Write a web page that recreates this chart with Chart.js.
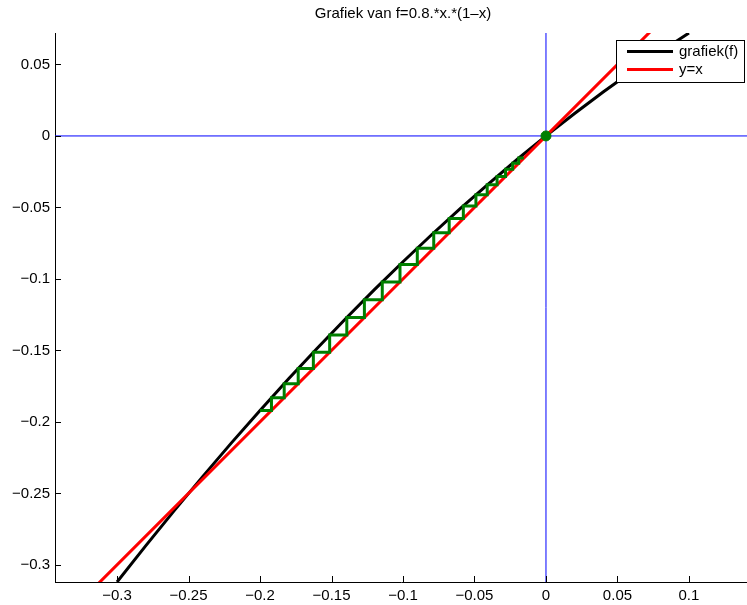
<!DOCTYPE html>
<html>
<head>
<meta charset="utf-8">
<script src="https://cdn.jsdelivr.net/npm/chart.js@4.4.0/dist/chart.umd.min.js"></script>
<style>
    html, body { margin: 0; padding: 0; background: #fff; }
    canvas { display: block; }
</style>
</head>
<body>
<canvas id="myChart" width="747" height="605"></canvas>
<script>
let titleText = 'Grafiek van f=0.8.*x.*(1\u2013x)';

// black curve
let curveX = [-0.30, -0.28, -0.26, -0.24, -0.22, -0.20, -0.18, -0.16, -0.14, -0.12, -0.10,
              -0.08, -0.06, -0.04, -0.02, 0, 0.02, 0.04, 0.06, 0.08, 0.10];
let curveY = [-0.312, -0.2867, -0.2621, -0.2381, -0.2147, -0.192, -0.1699, -0.1485, -0.1277, -0.1075, -0.088,
              -0.0691, -0.0509, -0.0333, -0.0163, 0, 0.0157, 0.0307, 0.0451, 0.0589, 0.072];

// red line y=x
let lineX = [-0.35, 0.15];
let lineY = [-0.35, 0.15];

// green staircase: successive iterates
let cobwebIter = [-0.2, -0.192, -0.1831, -0.1733, -0.1627, -0.1513, -0.1393, -0.1270, -0.1145, -0.1021,
                  -0.0900, -0.0785, -0.0677, -0.0578, -0.0490, -0.0411, -0.0342, -0.0283, -0.0233, -0.0191, -0.0155];
let fixedPoint = [0, 0];

let xTicks = [-0.3, -0.25, -0.2, -0.15, -0.1, -0.05, 0, 0.05, 0.1];
let yTicks = [-0.3, -0.25, -0.2, -0.15, -0.1, -0.05, 0, 0.05];
let xRange = [-0.3434, 0.1406];
let yRange = [-0.312, 0.072];

let legendLabels = ['grafiek(f)', 'y=x'];
let legendColors = ['#000000', '#ff0000'];

let fontFamily = '"Liberation Sans", Arial, Helvetica, sans-serif';

function toPoints(xs, ys) {
    return xs.map(function (x, i) { return { x: x, y: ys[i] }; });
}

function cobwebPoints(iter) {
    let pts = [{ x: iter[0], y: iter[1] }];
    for (let i = 1; i < iter.length - 1; i++) {
        pts.push({ x: iter[i], y: iter[i] });
        pts.push({ x: iter[i], y: iter[i + 1] });
    }
    let last = iter[iter.length - 1];
    pts.push({ x: last, y: last });
    return pts;
}

function tickLabel(v) {
    let s = String(Math.round(v * 1000) / 1000);
    if (s === '-0') s = '0';
    return s.replace('-', '\u2212');
}

let decor = {
    id: 'decor',
    afterDraw(chart) {
        let ctx = chart.ctx;
        let area = chart.chartArea;
        let xs = chart.scales.x;
        let ys = chart.scales.y;

        // inward tick marks
        ctx.save();
        ctx.strokeStyle = '#000';
        ctx.lineWidth = 1;
        ctx.beginPath();
        xTicks.forEach(function (v) {
            let px = Math.round(xs.getPixelForValue(v)) + 0.5;
            ctx.moveTo(px, area.bottom);
            ctx.lineTo(px, area.bottom - 6);
        });
        yTicks.forEach(function (v) {
            let py = Math.round(ys.getPixelForValue(v)) + 0.5;
            ctx.moveTo(area.left, py);
            ctx.lineTo(area.left + 6, py);
        });
        ctx.stroke();

        // title
        ctx.fillStyle = '#000';
        ctx.font = '15px ' + fontFamily;
        ctx.textAlign = 'center';
        ctx.textBaseline = 'alphabetic';
        ctx.fillText(titleText, (area.left + area.right) / 2 + 2, 18);

        // legend
        let bx = 616.5, by = 40.5, bw = 128, bh = 42;
        ctx.fillStyle = '#fff';
        ctx.fillRect(bx, by, bw, bh);
        ctx.strokeStyle = '#000';
        ctx.lineWidth = 1;
        ctx.strokeRect(bx, by, bw, bh);
        ctx.textAlign = 'left';
        ctx.textBaseline = 'middle';
        legendLabels.forEach(function (lab, i) {
            let ly = 51.5 + i * 18;
            ctx.strokeStyle = legendColors[i];
            ctx.lineWidth = 3;
            ctx.beginPath();
            ctx.moveTo(627, ly);
            ctx.lineTo(673, ly);
            ctx.stroke();
            ctx.fillStyle = '#000';
            ctx.fillText(lab, 679, ly);
        });
        ctx.restore();
    }
};

let scaleBase = {
    type: 'linear',
    grid: { display: false, drawTicks: false, tickLength: 0 },
    border: { display: true, color: '#000', width: 1 },
    ticks: {
        color: '#000',
        font: { family: fontFamily, size: 15 },
        padding: 5,
        callback: tickLabel,
        maxRotation: 0,
        autoSkip: false
    }
};

function noPadding(s) {
    s.paddingLeft = 0;
    s.paddingRight = 0;
    s.paddingTop = 0;
    s.paddingBottom = 0;
}

let myChart = document.getElementById('myChart').getContext('2d');

let chart = new Chart(myChart, {
    type: 'scatter',
    data: {
        datasets: [
            {
                label: 'x-as',
                data: [{ x: -0.4, y: 0 }, { x: 0.2, y: 0 }],
                showLine: true, borderColor: '#0000ff', borderWidth: 1,
                pointRadius: 0, order: 10, clip: 0
            },
            {
                label: 'y-as',
                data: [{ x: 0, y: -0.4 }, { x: 0, y: 0.2 }],
                showLine: true, borderColor: '#0000ff', borderWidth: 1,
                pointRadius: 0, order: 9, clip: 0
            },
            {
                label: legendLabels[0],
                data: toPoints(curveX, curveY),
                showLine: true, borderColor: legendColors[0], borderWidth: 3,
                pointRadius: 0, order: 8, clip: 0
            },
            {
                label: legendLabels[1],
                data: toPoints(lineX, lineY),
                showLine: true, borderColor: legendColors[1], borderWidth: 3,
                pointRadius: 0, order: 7, clip: 0
            },
            {
                label: 'cobweb',
                data: cobwebPoints(cobwebIter),
                showLine: true, borderColor: '#007f00', borderWidth: 3,
                borderJoinStyle: 'miter',
                pointRadius: 0, order: 6, clip: 0
            },
            {
                label: 'dekpunt',
                data: [{ x: fixedPoint[0], y: fixedPoint[1] }],
                showLine: false, backgroundColor: '#007f00', borderColor: '#007f00',
                pointRadius: 5, order: 5
            }
        ]
    },
    options: {
        responsive: false,
        animation: false,
        events: [],
        layout: { padding: { top: 33, right: 0, bottom: 0, left: 0 } },
        plugins: {
            legend: { display: false },
            title: { display: false },
            tooltip: { enabled: false }
        },
        scales: {
            x: Object.assign({}, scaleBase, {
                position: 'bottom',
                min: xRange[0], max: xRange[1],
                afterBuildTicks: function (s) { s.ticks = xTicks.map(function (v) { return { value: v }; }); },
                afterFit: function (s) { s.height = 23; noPadding(s); }
            }),
            y: Object.assign({}, scaleBase, {
                position: 'left',
                min: yRange[0], max: yRange[1],
                afterBuildTicks: function (s) { s.ticks = yTicks.map(function (v) { return { value: v }; }); },
                afterFit: function (s) { s.width = 55; noPadding(s); }
            })
        }
    },
    plugins: [decor]
});

// the big dot would otherwise reserve 6px of room on the right side
chart.data.datasets.forEach(function (ds, i) {
    chart.getDatasetMeta(i).controller.getMaxOverflow = function () { return 0; };
});
chart.update();
</script>
</body>
</html>
